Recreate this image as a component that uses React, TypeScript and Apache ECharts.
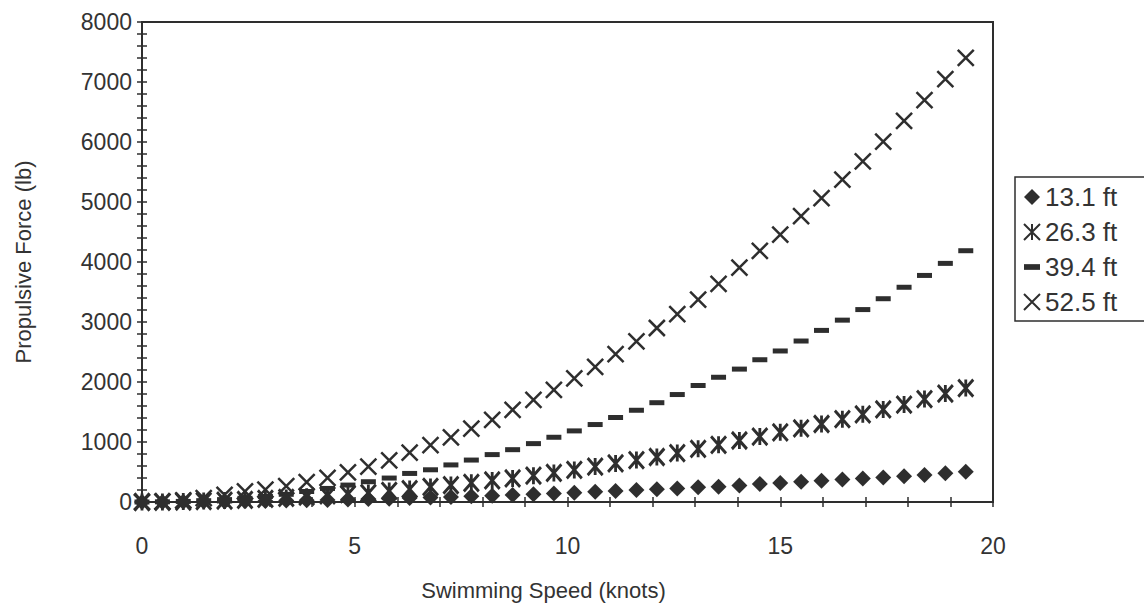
import React, { useEffect, useRef } from "react";
import * as echarts from "echarts";

const speeds = [0, 0.48, 0.97, 1.45, 1.94, 2.42, 2.9, 3.39, 3.87, 4.36, 4.84, 5.32, 5.81, 6.29, 6.78, 7.26, 7.74, 8.23, 8.71, 9.2, 9.68, 10.16, 10.65, 11.13, 11.62, 12.1, 12.58, 13.07, 13.55, 14.04, 14.52, 15.0, 15.49, 15.97, 16.46, 16.94, 17.42, 17.91, 18.39, 18.88, 19.36];

const force131 = [0, 1, 3, 7, 10, 14, 18, 23, 29, 35, 42, 49, 56, 66, 75, 84, 94, 105, 117, 129, 141, 155, 171, 185, 199, 214, 226, 244, 256, 277, 301, 317, 338, 356, 373, 392, 410, 430, 452, 478, 505];
const force263 = [0, 2, 7, 15, 24, 36, 51, 68, 88, 109, 132, 148, 184, 216, 252, 283, 319, 360, 392, 438, 484, 535, 591, 643, 699, 750, 816, 887, 954, 1025, 1091, 1162, 1228, 1300, 1381, 1462, 1543, 1624, 1716, 1807, 1898];
const force394 = [0, 3, 10, 22, 40, 61, 92, 128, 175, 226, 282, 338, 399, 476, 537, 618, 699, 790, 872, 973, 1079, 1185, 1291, 1408, 1529, 1655, 1791, 1942, 2079, 2215, 2371, 2517, 2683, 2860, 3031, 3207, 3388, 3579, 3776, 3977, 4188];
const force525 = [0, 6, 27, 64, 120, 176, 207, 263, 330, 401, 492, 588, 694, 821, 947, 1078, 1224, 1370, 1537, 1703, 1869, 2060, 2251, 2463, 2679, 2900, 3131, 3372, 3634, 3905, 4186, 4457, 4763, 5065, 5371, 5677, 6008, 6354, 6696, 7047, 7403];

const seriesNames = ["13.1 ft", "26.3 ft", "39.4 ft", "52.5 ft"];

const INK = "#2e2e2e";
const FONT = "'Liberation Sans', Arial, sans-serif";

export default function App() {
  const ref = useRef<HTMLDivElement>(null);
  useEffect(() => {
    if (!ref.current) return;
    const chart = echarts.init(ref.current, null, { renderer: "svg" });
    const pts = (arr: number[]) => speeds.map((s, i) => [s, arr[i]]);
    const tickStyle = { color: INK, width: 1.5 };
    const labelStyle = { fontSize: 23, color: "#333", fontFamily: FONT };
    chart.setOption({
      animation: false,
      backgroundColor: "#ffffff",
      grid: {
        left: 142,
        right: 151,
        top: 22,
        bottom: 105,
        show: true,
        borderColor: INK,
        borderWidth: 2,
        backgroundColor: "transparent",
      },
      legend: {
        orient: "vertical",
        left: 1015,
        top: 177,
        padding: [7, 40, 6, 8],
        itemWidth: 16,
        itemHeight: 16,
        itemGap: 9,
        borderColor: INK,
        borderWidth: 1.5,
        textStyle: { fontSize: 26, color: "#333", fontFamily: FONT },
        data: [
          { name: seriesNames[0] },
          { name: seriesNames[1] },
          { name: seriesNames[2], icon: "path://M0 0 L14 0 L14 5 L0 5 Z" },
          { name: seriesNames[3] },
        ],
      },
      xAxis: [
        {
          type: "value",
          min: 0,
          max: 20,
          interval: 1,
          position: "bottom",
          axisLine: { show: true, onZero: false, lineStyle: { color: INK, width: 2 } },
          axisTick: { show: true, inside: false, length: 5, lineStyle: tickStyle },
          axisLabel: {
            ...labelStyle,
            margin: 32,
            formatter: (v: number) => (v % 5 === 0 ? String(v) : ""),
          },
          splitLine: { show: false },
          name: "Swimming Speed (knots)",
          nameLocation: "middle",
          nameGap: 77,
          nameTextStyle: { fontSize: 22, color: "#333", fontFamily: FONT, padding: [0, 48, 0, 0] },
        },
        {
          type: "value",
          min: 0,
          max: 20,
          interval: 1,
          position: "bottom",
          axisLine: { show: false, onZero: false },
          axisTick: { show: true, inside: true, length: 5, lineStyle: tickStyle },
          axisLabel: { show: false },
          splitLine: { show: false },
        },
      ],
      yAxis: [
        {
          type: "value",
          min: 0,
          max: 8000,
          interval: 200,
          position: "left",
          axisLine: { show: true, onZero: false, lineStyle: { color: INK, width: 2 } },
          axisTick: { show: true, inside: false, length: 5, lineStyle: tickStyle },
          axisLabel: {
            ...labelStyle,
            margin: 10,
            formatter: (v: number) => (v % 1000 === 0 ? String(v) : ""),
          },
          splitLine: { show: false },
          name: "Propulsive Force (lb)",
          nameLocation: "middle",
          nameGap: 108,
          nameTextStyle: { fontSize: 22, color: "#333", fontFamily: FONT },
        },
        {
          type: "value",
          min: 0,
          max: 8000,
          interval: 200,
          position: "left",
          axisLine: { show: false, onZero: false },
          axisTick: { show: true, inside: true, length: 5, lineStyle: tickStyle },
          axisLabel: { show: false },
          splitLine: { show: false },
        },
      ],
      series: [
        {
          name: seriesNames[0],
          type: "scatter",
          data: pts(force131),
          symbol: "diamond",
          symbolSize: [16, 16],
          itemStyle: { color: INK, opacity: 1 },
          z: 5,
        },
        {
          name: seriesNames[1],
          type: "scatter",
          data: pts(force263),
          symbol: "path://M0 0 L10 10 M10 0 L0 10 M5 0 L5 10",
          symbolSize: [15, 17],
          itemStyle: { color: "transparent", borderColor: INK, borderWidth: 3, opacity: 1 },
          z: 4,
        },
        {
          name: seriesNames[2],
          type: "scatter",
          data: pts(force394),
          symbol: "rect",
          symbolSize: [15, 5],
          itemStyle: { color: INK, opacity: 1 },
          z: 3,
        },
        {
          name: seriesNames[3],
          type: "scatter",
          data: pts(force525),
          symbol: "path://M0 0 L10 10 M10 0 L0 10",
          symbolSize: [16, 16],
          itemStyle: { color: "transparent", borderColor: INK, borderWidth: 2.5, opacity: 1 },
          z: 2,
        },
      ],
    });
    return () => chart.dispose();
  }, []);
  return (
    <div
      ref={ref}
      style={{ position: "fixed", left: 0, top: 0, width: 1144, height: 607, background: "#fff" }}
    />
  );
}
